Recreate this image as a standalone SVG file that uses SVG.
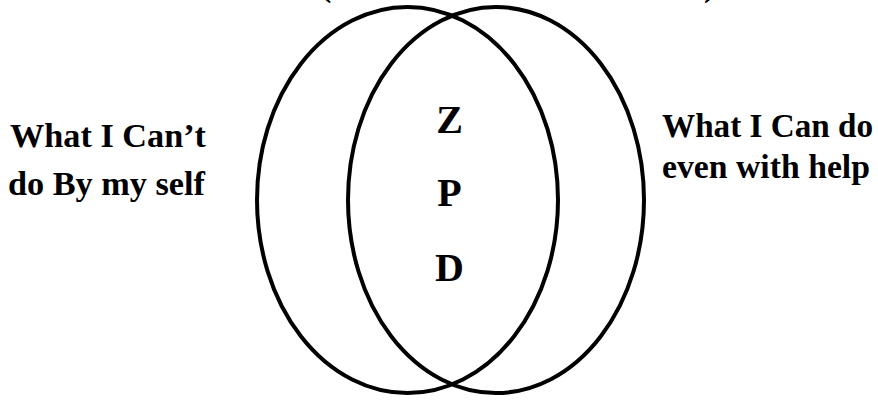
<svg xmlns="http://www.w3.org/2000/svg" width="878" height="401" viewBox="0 0 878 401">
<style>
.ell{fill:none;stroke:#000;stroke-width:4}
.t{font-family:"Liberation Serif","Times New Roman",serif;font-weight:bold;fill:#000}
.s{font-size:34px}
.b{font-size:40px}
</style>
<rect width="878" height="401" fill="#fff"/>
<g id="left-set"><ellipse class="ell" cx="407.5" cy="200" rx="150.5" ry="193"/></g>
<g id="right-set"><ellipse class="ell" cx="496" cy="200" rx="148" ry="193"/></g>
<g id="zpd">
<text class="t b" x="449.5" y="133" text-anchor="middle">Z</text>
<text class="t b" x="449.5" y="206" text-anchor="middle">P</text>
<text class="t b" x="449.5" y="281" text-anchor="middle">D</text>
</g>
<g id="left-label">
<text class="t s" x="10" y="147" textLength="196" lengthAdjust="spacingAndGlyphs">What I Can’t</text>
<text class="t s" x="8" y="195" textLength="197" lengthAdjust="spacingAndGlyphs">do By my self</text>
</g>
<g id="right-label">
<text class="t s" x="662" y="137" textLength="211" lengthAdjust="spacingAndGlyphs">What I Can do</text>
<text class="t s" x="662" y="178" textLength="208" lengthAdjust="spacingAndGlyphs">even with help</text>
</g>
<g id="top-fragment">
<text class="t s" x="320" y="-4">(</text>
<text class="t s" x="704" y="-4">)</text>
</g>
</svg>
